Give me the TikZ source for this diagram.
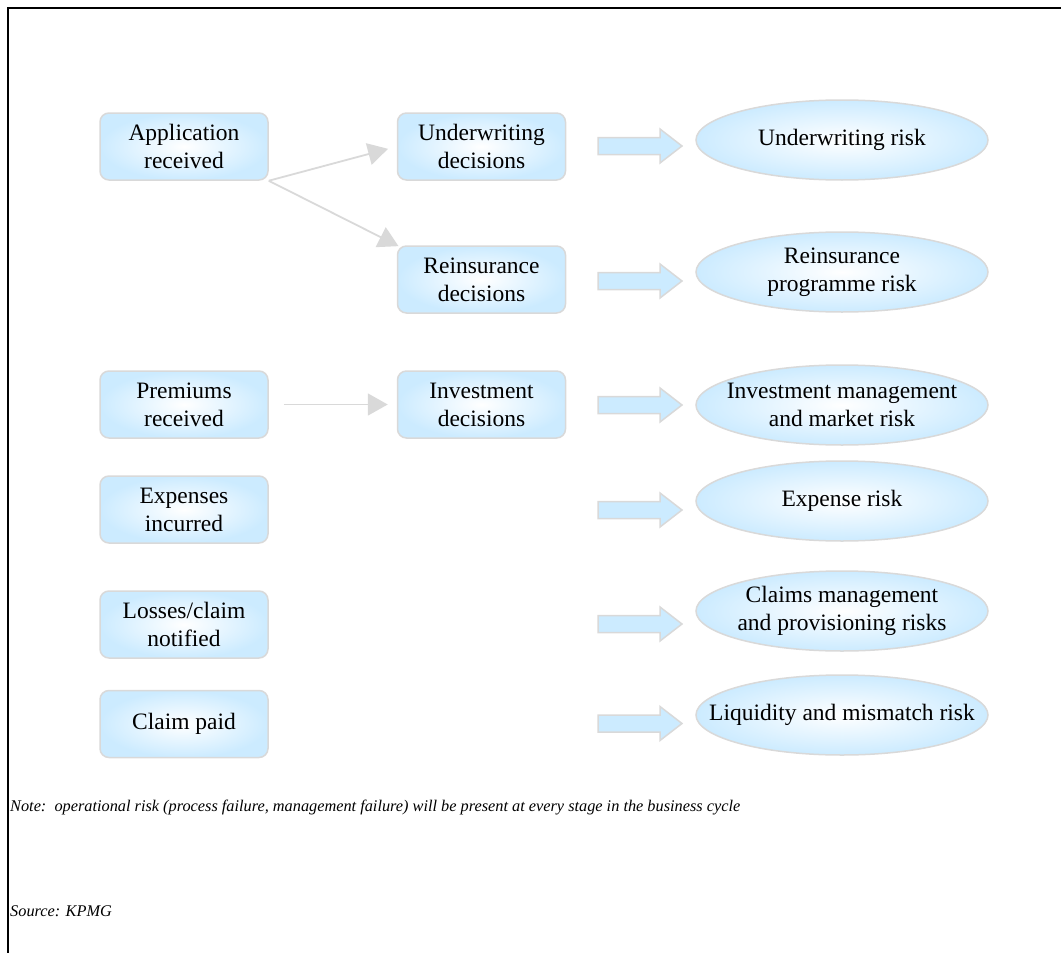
\documentclass[tikz,border=0pt]{standalone}
\usepackage{fontspec}
\setmainfont{Liberation Serif}
\usetikzlibrary{arrows.meta,shapes.geometric}
\definecolor{boxblue}{RGB}{204,235,255}
\definecolor{edgegray}{RGB}{217,217,217}
\tikzset{
  stage/.style={draw=edgegray, line width=1.5pt, rounded corners=9pt,
    minimum width=168pt, minimum height=67pt, inner sep=0pt,
    inner color=white, outer color=boxblue, align=center,
    font=\fontsize{23.5}{28}\selectfont},
  risk/.style={ellipse, draw=edgegray, line width=1.5pt,
    minimum width=292pt, minimum height=80pt, inner sep=0pt,
    inner color=white, outer color=boxblue},
  risktext/.style={align=center, inner sep=0pt,
    font=\fontsize{23.5}{28}\selectfont},
  flow/.style={draw=edgegray, line width=1.8pt,
    -{Triangle[length=20pt,width=22pt]}},
  pics/blockarrow/.style={code={
    \draw[edgegray, fill=boxblue, line width=1.5pt]
      (0,-8.5) -- (62,-8.5) -- (62,-17) -- (84,0) -- (62,17) -- (62,8.5)
      -- (0,8.5) -- cycle;}},
  note/.style={anchor=base west, inner sep=0pt,
    font=\fontsize{16.3}{19}\selectfont\itshape}
}
\begin{document}
\begin{tikzpicture}[x=1pt,y=-1pt]
\useasboundingbox (0,0) rectangle (1061,953);
% frame lines
\draw[line width=2pt] (8,953) -- (8,8) -- (1061,8);

% business-cycle stages
\node[stage] (app) at (184,146.5) {Application\\received};
\node[stage] (prem) at (184,404.5) {Premiums\\received};
\node[stage] (exp) at (184,509.5) {Expenses\\incurred};
\node[stage] (loss) at (184,624.5) {Losses/claim\\notified};
\node[stage] (paid) at (184,724) {Claim paid};

\node[stage] (uw) at (481.5,146.5) {Underwriting\\decisions};
\node[stage] (re) at (481.5,279.5) {Reinsurance\\decisions};
\node[stage] (inv) at (481.5,404.5) {Investment\\decisions};

% links between stages
\draw[flow, shorten >=9pt] (app.south east) -- (uw.west);
\draw[flow, shorten >=-2pt] (app.south east) -- (re.north west);
\draw[flow, shorten <=15pt, shorten >=9pt] (prem.east) -- (inv.west);

% risks
\node[risk] (r1) at (842,140) {};
\node[risktext] at (r1) {Underwriting risk};
\node[risk] (r2) at (842,272) {};
\node[risktext] at (r2) {Reinsurance\\programme risk};
\node[risk] (r3) at (842,405) {};
\node[risktext] at (r3) {Investment management\\and market risk};
\node[risk] (r4) at (842,501) {};
\node[risktext] at (r4) {Expense risk};
\node[risk] (r5) at (842,611) {};
\node[risktext] at (r5) {Claims management\\and provisioning risks};
\node[risk] (r6) at (842,715) {};
\node[risktext] at (r6) {Liquidity and mismatch risk};

% block arrows towards the risks
\pic at (598,146) {blockarrow};
\pic at (598,281) {blockarrow};
\pic at (598,405) {blockarrow};
\pic at (598,510) {blockarrow};
\pic at (598,624) {blockarrow};
\pic at (598,723.5) {blockarrow};

% notes
\node[note] (nt) at (10,811) {Note:\ \ operational risk (process failure, management failure) will be present at every stage in the business cycle};
\node[note] (src) at (10,916) {Source: KPMG};
\end{tikzpicture}
\end{document}
